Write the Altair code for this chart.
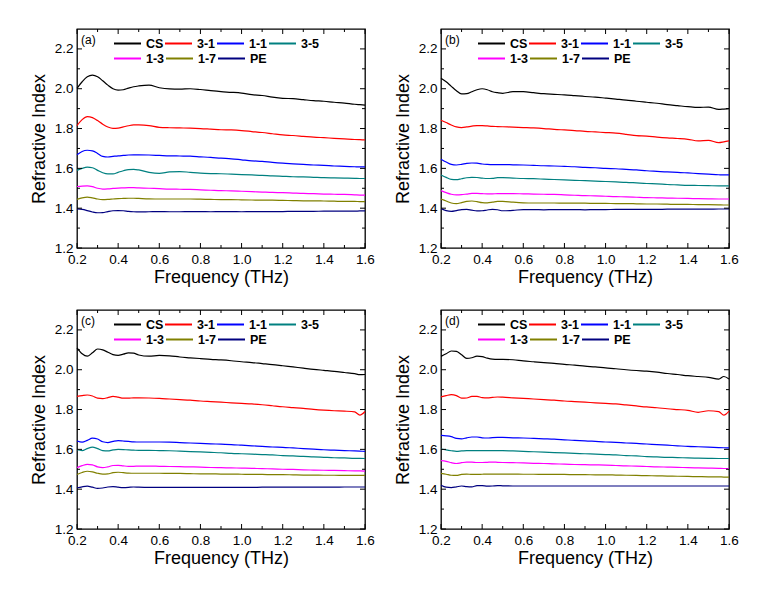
import altair as alt
import pandas as pd

FREQ = [0.2, 0.225, 0.25, 0.275, 0.3, 0.325, 0.35, 0.375, 0.4, 0.425, 0.45, 0.475, 0.5,
        0.55, 0.6, 0.65, 0.7, 0.75, 0.8, 0.85, 0.9, 0.95, 1.0, 1.05, 1.1, 1.15, 1.2,
        1.25, 1.3, 1.35, 1.4, 1.45, 1.5, 1.55, 1.575, 1.6]

SERIES = ["CS", "3-1", "1-1", "3-5", "1-3", "1-7", "PE"]
COLORS = ["#000000", "#ff0000", "#0000ff", "#008080", "#ff00ff", "#808000", "#000080"]
PANEL_LABELS = ["(a)", "(b)", "(c)", "(d)"]

X_MAJOR = [0.2, 0.4, 0.6, 0.8, 1.0, 1.2, 1.4, 1.6]
X_MINOR = [0.3, 0.5, 0.7, 0.9, 1.1, 1.3, 1.5]
Y_MAJOR = [1.2, 1.4, 1.6, 1.8, 2.0, 2.2]
Y_MINOR = [1.3, 1.5, 1.7, 1.9, 2.1]

# ---- panel (a)
A_CS = [2.002, 2.035, 2.060, 2.068, 2.060, 2.040, 2.018, 2.000, 1.993, 1.995, 2.003, 2.010, 2.014, 2.018, 2.005, 1.999, 1.998, 2.000, 1.996, 1.990, 1.985, 1.982, 1.978, 1.970, 1.966, 1.958, 1.952, 1.950, 1.945, 1.940, 1.937, 1.932, 1.928, 1.922, 1.920, 1.918]
A_31 = [1.815, 1.845, 1.860, 1.855, 1.840, 1.822, 1.808, 1.801, 1.802, 1.808, 1.814, 1.818, 1.818, 1.815, 1.806, 1.804, 1.803, 1.802, 1.800, 1.797, 1.794, 1.793, 1.790, 1.785, 1.780, 1.774, 1.768, 1.765, 1.761, 1.757, 1.754, 1.751, 1.748, 1.745, 1.744, 1.743]
A_11 = [1.668, 1.685, 1.691, 1.688, 1.675, 1.660, 1.657, 1.660, 1.663, 1.665, 1.667, 1.668, 1.668, 1.667, 1.665, 1.663, 1.662, 1.661, 1.658, 1.655, 1.651, 1.648, 1.643, 1.638, 1.635, 1.630, 1.626, 1.623, 1.620, 1.617, 1.615, 1.612, 1.610, 1.608, 1.607, 1.607]
A_35 = [1.590, 1.600, 1.606, 1.603, 1.590, 1.578, 1.572, 1.572, 1.580, 1.588, 1.594, 1.595, 1.592, 1.580, 1.575, 1.582, 1.584, 1.580, 1.576, 1.574, 1.573, 1.571, 1.569, 1.567, 1.565, 1.562, 1.560, 1.558, 1.557, 1.555, 1.553, 1.552, 1.551, 1.550, 1.549, 1.549]
A_13 = [1.509, 1.511, 1.512, 1.508, 1.500, 1.496, 1.497, 1.499, 1.501, 1.502, 1.503, 1.503, 1.502, 1.500, 1.498, 1.496, 1.495, 1.494, 1.492, 1.490, 1.488, 1.487, 1.485, 1.483, 1.481, 1.479, 1.478, 1.476, 1.474, 1.473, 1.471, 1.470, 1.469, 1.467, 1.466, 1.466]
A_17 = [1.444, 1.452, 1.456, 1.452, 1.446, 1.443, 1.444, 1.446, 1.448, 1.449, 1.450, 1.450, 1.449, 1.447, 1.446, 1.446, 1.446, 1.446, 1.445, 1.444, 1.443, 1.443, 1.442, 1.441, 1.440, 1.440, 1.439, 1.438, 1.437, 1.437, 1.436, 1.435, 1.434, 1.434, 1.433, 1.433]
A_PE = [1.397, 1.394, 1.388, 1.381, 1.377, 1.378, 1.383, 1.387, 1.388, 1.387, 1.384, 1.382, 1.381, 1.382, 1.383, 1.382, 1.382, 1.383, 1.383, 1.382, 1.383, 1.383, 1.382, 1.383, 1.383, 1.383, 1.383, 1.384, 1.384, 1.384, 1.385, 1.385, 1.385, 1.385, 1.386, 1.386]

# ---- panel (b)
B_CS = [2.053, 2.035, 2.012, 1.990, 1.974, 1.975, 1.985, 1.995, 2.000, 1.995, 1.985, 1.980, 1.977, 1.985, 1.985, 1.980, 1.975, 1.972, 1.969, 1.965, 1.961, 1.958, 1.953, 1.948, 1.943, 1.937, 1.932, 1.927, 1.920, 1.915, 1.910, 1.906, 1.908, 1.896, 1.898, 1.900]
B_31 = [1.842, 1.830, 1.818, 1.808, 1.805, 1.808, 1.812, 1.815, 1.815, 1.813, 1.811, 1.810, 1.809, 1.807, 1.805, 1.803, 1.800, 1.796, 1.793, 1.790, 1.786, 1.783, 1.780, 1.777, 1.771, 1.764, 1.762, 1.757, 1.753, 1.750, 1.746, 1.738, 1.741, 1.729, 1.733, 1.738]
B_11 = [1.646, 1.632, 1.620, 1.617, 1.620, 1.625, 1.627, 1.626, 1.622, 1.620, 1.619, 1.619, 1.619, 1.618, 1.617, 1.615, 1.613, 1.612, 1.610, 1.608, 1.605, 1.603, 1.600, 1.598, 1.595, 1.592, 1.588, 1.585, 1.582, 1.580, 1.577, 1.574, 1.571, 1.568, 1.567, 1.567]
B_35 = [1.567, 1.555, 1.545, 1.543, 1.548, 1.553, 1.555, 1.554, 1.551, 1.549, 1.550, 1.553, 1.553, 1.551, 1.549, 1.548, 1.546, 1.544, 1.542, 1.540, 1.538, 1.536, 1.534, 1.532, 1.530, 1.527, 1.524, 1.522, 1.519, 1.517, 1.515, 1.514, 1.513, 1.512, 1.512, 1.512]
B_13 = [1.488, 1.478, 1.470, 1.467, 1.468, 1.471, 1.474, 1.474, 1.473, 1.472, 1.472, 1.473, 1.473, 1.473, 1.472, 1.471, 1.470, 1.469, 1.467, 1.465, 1.463, 1.462, 1.460, 1.458, 1.457, 1.455, 1.453, 1.452, 1.451, 1.450, 1.449, 1.448, 1.447, 1.446, 1.446, 1.446]
B_17 = [1.446, 1.436, 1.426, 1.423, 1.428, 1.434, 1.436, 1.433, 1.428, 1.427, 1.430, 1.434, 1.434, 1.430, 1.427, 1.426, 1.426, 1.426, 1.425, 1.425, 1.425, 1.424, 1.424, 1.423, 1.423, 1.422, 1.421, 1.421, 1.420, 1.419, 1.419, 1.418, 1.418, 1.417, 1.416, 1.416]
B_PE = [1.398, 1.388, 1.384, 1.388, 1.393, 1.394, 1.390, 1.386, 1.387, 1.391, 1.394, 1.392, 1.387, 1.389, 1.393, 1.393, 1.392, 1.393, 1.393, 1.393, 1.392, 1.393, 1.393, 1.394, 1.394, 1.394, 1.394, 1.394, 1.395, 1.395, 1.395, 1.395, 1.395, 1.396, 1.396, 1.396]

# ---- panel (c)
C_CS = [2.110, 2.080, 2.068, 2.085, 2.104, 2.100, 2.088, 2.076, 2.072, 2.078, 2.085, 2.083, 2.074, 2.068, 2.072, 2.070, 2.064, 2.060, 2.056, 2.052, 2.049, 2.045, 2.040, 2.036, 2.031, 2.026, 2.020, 2.014, 2.008, 2.002, 1.997, 1.992, 1.986, 1.980, 1.975, 1.976]
C_31 = [1.866, 1.870, 1.873, 1.868, 1.857, 1.855, 1.860, 1.866, 1.862, 1.857, 1.857, 1.859, 1.859, 1.858, 1.856, 1.853, 1.850, 1.847, 1.843, 1.840, 1.837, 1.834, 1.831, 1.828, 1.824, 1.819, 1.814, 1.810, 1.806, 1.801, 1.797, 1.794, 1.792, 1.788, 1.772, 1.790]
C_11 = [1.642, 1.636, 1.645, 1.656, 1.652, 1.638, 1.634, 1.640, 1.644, 1.642, 1.640, 1.638, 1.637, 1.637, 1.637, 1.636, 1.634, 1.632, 1.630, 1.628, 1.626, 1.624, 1.621, 1.618, 1.615, 1.612, 1.610, 1.607, 1.604, 1.601, 1.598, 1.596, 1.594, 1.592, 1.591, 1.590]
C_35 = [1.598, 1.594, 1.604, 1.611, 1.604, 1.594, 1.592, 1.597, 1.600, 1.599, 1.597, 1.596, 1.595, 1.595, 1.594, 1.593, 1.591, 1.589, 1.587, 1.585, 1.583, 1.580, 1.578, 1.576, 1.574, 1.572, 1.569, 1.567, 1.565, 1.562, 1.560, 1.558, 1.557, 1.555, 1.555, 1.554]
C_13 = [1.508, 1.518, 1.525, 1.522, 1.512, 1.508, 1.512, 1.519, 1.520, 1.517, 1.515, 1.515, 1.516, 1.516, 1.515, 1.514, 1.513, 1.512, 1.511, 1.509, 1.508, 1.507, 1.506, 1.505, 1.503, 1.502, 1.500, 1.499, 1.497, 1.496, 1.495, 1.494, 1.493, 1.492, 1.492, 1.491]
C_17 = [1.474, 1.484, 1.490, 1.487, 1.480, 1.476, 1.477, 1.483, 1.485, 1.483, 1.481, 1.480, 1.480, 1.480, 1.480, 1.479, 1.479, 1.478, 1.477, 1.477, 1.476, 1.476, 1.475, 1.474, 1.474, 1.473, 1.473, 1.472, 1.471, 1.471, 1.470, 1.470, 1.469, 1.469, 1.469, 1.469]
C_PE = [1.407, 1.412, 1.415, 1.410, 1.404, 1.406, 1.411, 1.413, 1.410, 1.408, 1.409, 1.411, 1.410, 1.409, 1.409, 1.409, 1.409, 1.409, 1.409, 1.409, 1.409, 1.409, 1.409, 1.409, 1.410, 1.410, 1.410, 1.410, 1.410, 1.410, 1.410, 1.410, 1.411, 1.411, 1.411, 1.411]

# ---- panel (d)
D_CS = [2.067, 2.080, 2.094, 2.092, 2.075, 2.057, 2.060, 2.068, 2.066, 2.058, 2.053, 2.052, 2.052, 2.050, 2.044, 2.040, 2.036, 2.032, 2.027, 2.023, 2.018, 2.014, 2.009, 2.005, 2.000, 1.996, 1.993, 1.988, 1.981, 1.976, 1.970, 1.966, 1.962, 1.953, 1.966, 1.953]
D_31 = [1.864, 1.870, 1.875, 1.870, 1.857, 1.858, 1.866, 1.866, 1.860, 1.859, 1.861, 1.863, 1.862, 1.859, 1.856, 1.853, 1.850, 1.847, 1.843, 1.840, 1.837, 1.834, 1.831, 1.828, 1.823, 1.818, 1.813, 1.809, 1.804, 1.800, 1.796, 1.786, 1.794, 1.790, 1.772, 1.792]
D_11 = [1.670, 1.668, 1.664, 1.655, 1.653, 1.658, 1.662, 1.662, 1.658, 1.657, 1.659, 1.660, 1.660, 1.658, 1.657, 1.655, 1.653, 1.651, 1.648, 1.645, 1.643, 1.640, 1.637, 1.635, 1.632, 1.630, 1.627, 1.624, 1.621, 1.618, 1.615, 1.613, 1.611, 1.609, 1.608, 1.607]
D_35 = [1.602, 1.597, 1.593, 1.590, 1.592, 1.594, 1.594, 1.594, 1.594, 1.594, 1.594, 1.594, 1.594, 1.592, 1.590, 1.588, 1.586, 1.584, 1.582, 1.580, 1.578, 1.576, 1.574, 1.572, 1.569, 1.567, 1.564, 1.562, 1.560, 1.559, 1.557, 1.556, 1.555, 1.554, 1.554, 1.554]
D_13 = [1.543, 1.540, 1.533, 1.529, 1.533, 1.536, 1.536, 1.534, 1.534, 1.535, 1.536, 1.535, 1.534, 1.533, 1.532, 1.530, 1.529, 1.527, 1.526, 1.524, 1.523, 1.522, 1.521, 1.519, 1.517, 1.516, 1.514, 1.512, 1.511, 1.510, 1.508, 1.507, 1.506, 1.505, 1.504, 1.504]
D_17 = [1.479, 1.475, 1.470, 1.469, 1.474, 1.476, 1.474, 1.474, 1.475, 1.476, 1.476, 1.476, 1.476, 1.476, 1.475, 1.475, 1.474, 1.474, 1.474, 1.473, 1.473, 1.472, 1.472, 1.471, 1.470, 1.469, 1.468, 1.467, 1.466, 1.465, 1.464, 1.463, 1.462, 1.462, 1.461, 1.461]
D_PE = [1.420, 1.410, 1.408, 1.412, 1.416, 1.413, 1.412, 1.418, 1.418, 1.415, 1.416, 1.418, 1.417, 1.416, 1.416, 1.416, 1.416, 1.416, 1.416, 1.416, 1.416, 1.416, 1.416, 1.416, 1.416, 1.416, 1.416, 1.416, 1.416, 1.416, 1.416, 1.416, 1.416, 1.416, 1.416, 1.416]

PANEL_DATA = [
    [A_CS, A_31, A_11, A_35, A_13, A_17, A_PE],
    [B_CS, B_31, B_11, B_35, B_13, B_17, B_PE],
    [C_CS, C_31, C_11, C_35, C_13, C_17, C_PE],
    [D_CS, D_31, D_11, D_35, D_13, D_17, D_PE],
]

for pi, plist in enumerate(PANEL_DATA):
    for si, s in enumerate(plist):
        if len(s) != len(FREQ):
            raise ValueError(f"panel {pi} series {SERIES[si]} has {len(s)} values")

W, H = 288, 219
FONT = "Liberation Sans"

x_scale = alt.Scale(domain=[0.2, 1.6], nice=False, zero=False)
y_scale = alt.Scale(domain=[1.2, 2.3], nice=False, zero=False)

x_axis = alt.Axis(values=X_MAJOR, format=".1f", title="Frequency (THz)",
                  ticks=False, domain=False, grid=False, labelFlush=False,
                  labelFontSize=13.5, titleFontSize=18, labelPadding=4,
                  titlePadding=3, titleFontWeight="normal",
                  labelColor="black", titleColor="black",
                  labelFont=FONT, titleFont=FONT)
y_axis = alt.Axis(values=Y_MAJOR, format=".1f", title="Refractive Index",
                  ticks=False, domain=False, grid=False,
                  labelFontSize=13.5, titleFontSize=18, labelPadding=4,
                  titlePadding=6, titleFontWeight="normal",
                  labelColor="black", titleColor="black",
                  labelFont=FONT, titleFont=FONT)

ROW_SPLIT = 4  # first legend row holds the first four samples


def legend_row(y_pos):
    return alt.Legend(title=None, orient="none", legendX=36, legendY=y_pos,
                      columns=4, direction="horizontal",
                      symbolType="stroke", symbolSize=729,
                      symbolStrokeWidth=2, labelFontSize=12.5,
                      labelFontWeight="bold", labelFont=FONT,
                      labelColor="black", labelOffset=4,
                      columnPadding=-9, padding=0, symbolOffset=0)


def panel(label, series_lists):
    groups = []
    for names, cols, ly in [
        (SERIES[:ROW_SPLIT], COLORS[:ROW_SPLIT], 0),
        (SERIES[ROW_SPLIT:], COLORS[ROW_SPLIT:], 15),
    ]:
        rows = []
        for name in names:
            vals = series_lists[SERIES.index(name)]
            for f, v in zip(FREQ, vals):
                rows.append({"freq": f, "n": v, "sample": name})
        df = pd.DataFrame(rows)
        groups.append(
            alt.Chart(df).mark_line(strokeWidth=1.2, interpolate="monotone").encode(
                x=alt.X("freq:Q", scale=x_scale, axis=x_axis),
                y=alt.Y("n:Q", scale=y_scale, axis=y_axis),
                color=alt.Color("sample:N", sort=names,
                                scale=alt.Scale(domain=names, range=cols),
                                legend=legend_row(ly)),
            )
        )

    xmaj = pd.DataFrame({"freq": X_MAJOR})
    xmin = pd.DataFrame({"freq": X_MINOR})
    ymaj = pd.DataFrame({"n": Y_MAJOR})
    ymin = pd.DataFrame({"n": Y_MINOR})

    def xticks(d, ln):
        b = alt.Chart(d).mark_rule(color="black", strokeWidth=1).encode(
            x=alt.X("freq:Q", scale=x_scale, axis=x_axis),
            y=alt.value(H), y2=alt.value(H - ln))
        t = alt.Chart(d).mark_rule(color="black", strokeWidth=1).encode(
            x=alt.X("freq:Q", scale=x_scale, axis=x_axis),
            y=alt.value(0), y2=alt.value(ln))
        return [b, t]

    def yticks(d, ln):
        l = alt.Chart(d).mark_rule(color="black", strokeWidth=1).encode(
            y=alt.Y("n:Q", scale=y_scale, axis=y_axis),
            x=alt.value(0), x2=alt.value(ln))
        r = alt.Chart(d).mark_rule(color="black", strokeWidth=1).encode(
            y=alt.Y("n:Q", scale=y_scale, axis=y_axis),
            x=alt.value(W), x2=alt.value(W - ln))
        return [l, r]

    lab = alt.Chart(pd.DataFrame({"label": [label]})).mark_text(
        align="left", baseline="middle", fontSize=12, font=FONT, color="black"
    ).encode(text="label:N", x=alt.value(4), y=alt.value(11))

    layers = groups + xticks(xmaj, 5) + xticks(xmin, 3) + yticks(ymaj, 5) + yticks(ymin, 3) + [lab]
    return alt.layer(*layers).resolve_scale(color="independent").properties(width=W, height=H)


panels = [panel(lbl, d) for lbl, d in zip(PANEL_LABELS, PANEL_DATA)]

chart = alt.concat(*panels, columns=2, spacing={"row": 20, "column": 17}).resolve_scale(
    color="independent"
).configure_view(stroke="black", strokeWidth=1.3).properties(
    padding={"left": 21, "top": 19, "right": 5, "bottom": 5},
    background="white",
)

chart.save("out.html", embed_options={"renderer": "svg", "actions": False})
